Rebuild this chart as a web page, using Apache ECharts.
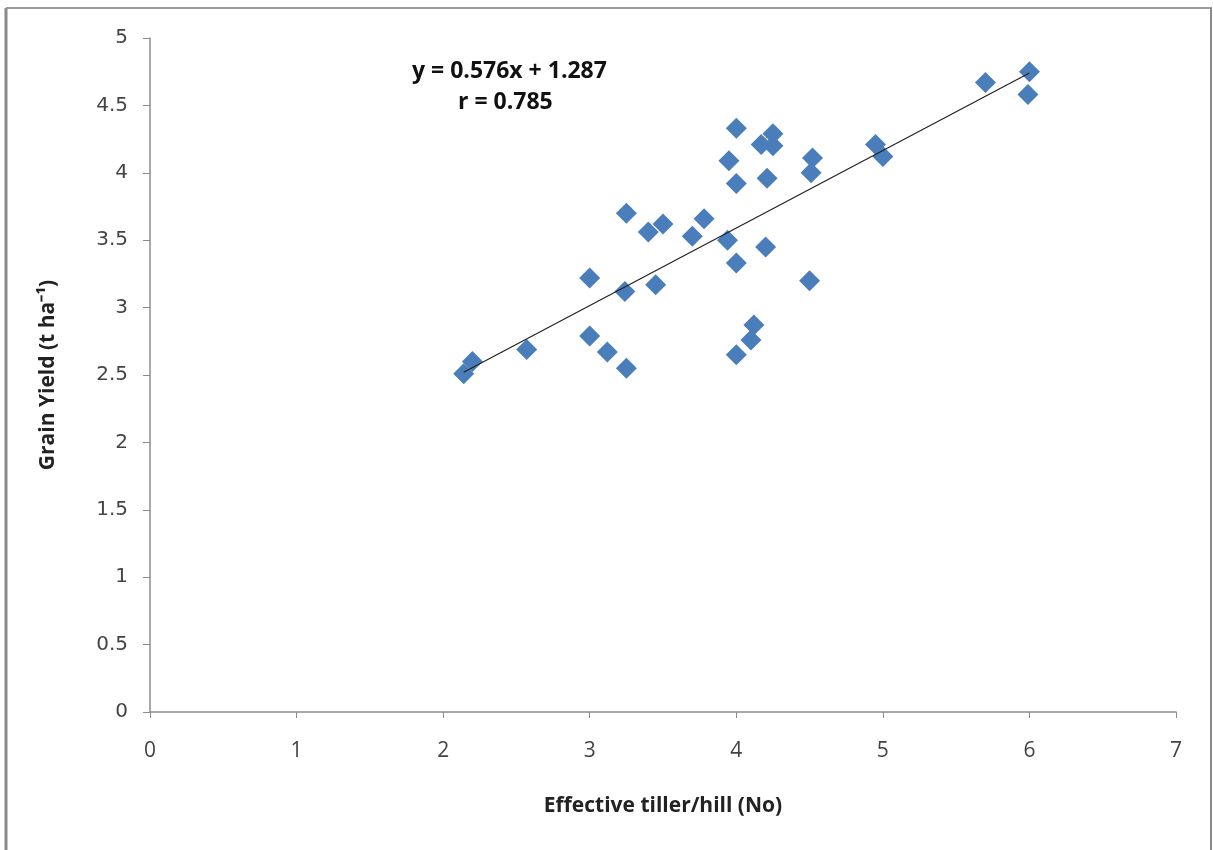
<!DOCTYPE html>
<html>
<head>
    <meta charset="utf-8">
    <title>Grain yield vs effective tiller</title>
    <script src="https://cdn.jsdelivr.net/npm/echarts@6/dist/echarts.min.js"></script>
    <style>
        html, body {
            margin: 0;
            padding: 0;
            background: #fff;
        }

        #main {
            width: 1213px;
            height: 850px;
        }
    </style>
</head>
<body>
<div id="main"></div>
<script>
    // tiller/hill (x) and grain yield (y)
    var tillers = [2.14, 2.20, 2.57, 3.00, 3.00, 3.12, 3.25, 3.24, 3.25, 3.40, 3.50, 3.45,
        3.70, 3.78, 3.94, 4.00, 4.20, 4.50, 4.12, 4.10, 4.00,
        4.00, 3.95, 4.00, 4.21, 4.25, 4.17, 4.25, 4.52, 4.51,
        4.95, 5.00, 5.70, 6.00, 5.99];
    var yields = [2.51, 2.60, 2.69, 3.22, 2.79, 2.67, 2.55, 3.12, 3.70, 3.56, 3.62, 3.17,
        3.53, 3.66, 3.50, 3.33, 3.45, 3.20, 2.87, 2.76, 2.65,
        4.33, 4.09, 3.92, 3.96, 4.29, 4.21, 4.20, 4.11, 4.00,
        4.21, 4.12, 4.67, 4.75, 4.58];

    // trend line end points as drawn
    var trendX = [2.14, 6.00];
    var trendY = [2.52, 4.74];

    var points = [];
    for (var i = 0; i < tillers.length; i++) {
        points.push([tillers[i], yields[i]]);
    }
    var trend = [];
    for (var j = 0; j < trendX.length; j++) {
        trend.push([trendX[j], trendY[j]]);
    }

    var myChart = echarts.init(document.getElementById('main'));

    var option = {
        backgroundColor: '#fff',
        animation: false,
        grid: {
            left: 150,
            right: 37,
            top: 38,
            bottom: 138
        },
        xAxis: {
            type: 'value',
            min: 0,
            max: 7,
            interval: 1,
            name: 'Effective tiller/hill (No)',
            nameLocation: 'middle',
            nameGap: 84,
            nameTextStyle: {
                fontFamily: 'Open Sans',
                fontWeight: 'bold',
                fontSize: 21,
                color: '#222'
            },
            splitLine: {show: false},
            axisLine: {lineStyle: {color: '#8c8c8c', width: 1.5}},
            axisTick: {show: true, length: 6, inside: false, lineStyle: {color: '#8c8c8c'}},
            axisLabel: {
                margin: 29,
                fontFamily: 'Open Sans',
                fontSize: 21,
                color: '#444'
            }
        },
        yAxis: {
            type: 'value',
            min: 0,
            max: 5,
            interval: 0.5,
            name: 'Grain Yield (t ha⁻¹)',
            nameLocation: 'middle',
            nameGap: 91,
            nameRotate: 90,
            nameTextStyle: {
                fontFamily: 'Open Sans',
                fontWeight: 'bold',
                fontSize: 21,
                color: '#222'
            },
            splitLine: {show: false},
            axisLine: {show: true, lineStyle: {color: '#8c8c8c', width: 1.5}},
            axisTick: {show: true, length: 7, lineStyle: {color: '#8c8c8c'}},
            axisLabel: {
                margin: 22,
                fontFamily: 'DejaVu Sans',
                fontSize: 20,
                color: '#444'
            }
        },
        graphic: [
            {type: 'line', shape: {x1: 6, y1: 8, x2: 6, y2: 850}, style: {stroke: '#8a8a8a', lineWidth: 3}},
            {type: 'line', shape: {x1: 6, y1: 8, x2: 1212, y2: 8}, style: {stroke: '#9a9a9a', lineWidth: 2}},
            {type: 'line', shape: {x1: 1211, y1: 8, x2: 1211, y2: 850}, style: {stroke: '#8a8a8a', lineWidth: 2}},
            {
                type: 'text',
                left: 412,
                top: 60,
                style: {
                    text: 'y = 0.576x + 1.287',
                    font: 'bold 23px "Open Sans"',
                    fill: '#111'
                }
            },
            {
                type: 'text',
                left: 458,
                top: 91,
                style: {
                    text: 'r = 0.785',
                    font: 'bold 23px "Open Sans"',
                    fill: '#111'
                }
            }
        ],
        series: [
            {
                name: 'trend',
                type: 'line',
                data: trend,
                symbol: 'none',
                z: 3,
                lineStyle: {color: '#222', width: 1.2}
            },
            {
                name: 'yield',
                type: 'scatter',
                data: points,
                symbol: 'diamond',
                symbolSize: 21,
                z: 2,
                itemStyle: {color: '#4a7ebb', opacity: 1}
            }
        ]
    };
    myChart.setOption(option);
</script>
</body>
</html>
